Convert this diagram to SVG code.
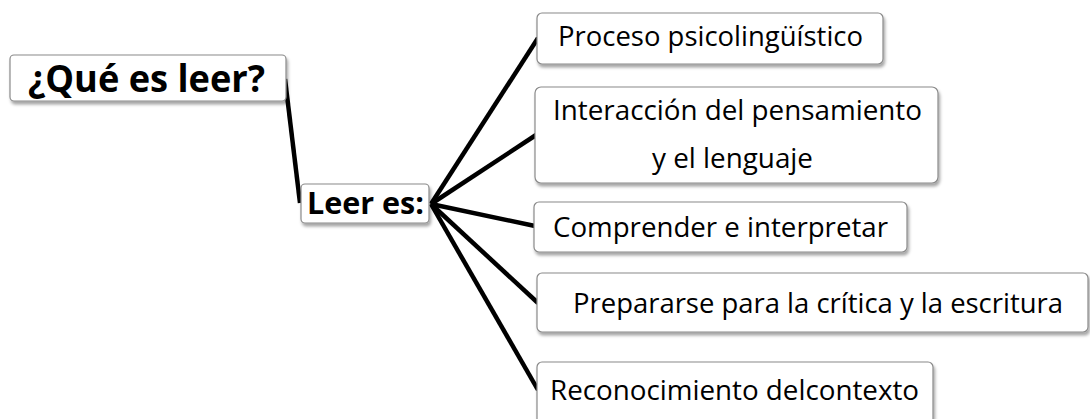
<svg xmlns="http://www.w3.org/2000/svg" width="1090" height="419" viewBox="0 0 1090 419">
<defs>
<filter id="sh" x="-10%" y="-20%" width="120%" height="160%">
<feDropShadow dx="1.5" dy="3" stdDeviation="1.8" flood-color="#000" flood-opacity="0.35"/>
</filter>
<style>
.box{fill:#fff;stroke:#8a8a8a;stroke-width:1.2;filter:url(#sh)}
.t{font-family:"Open Sans","Liberation Sans",sans-serif;font-size:28px;fill:#000}
.b{font-family:"Open Sans","Liberation Sans",sans-serif;font-weight:bold;fill:#000}
.c{stroke:#000;stroke-width:4.5;fill:none;stroke-linecap:butt}
</style>
</defs>
<rect width="1090" height="419" fill="#fff"/>
<g id="connectors">
<line class="c" x1="285" y1="79" x2="300" y2="203"/>
<line class="c" x1="431" y1="204" x2="538" y2="38"/>
<line class="c" x1="431" y1="204" x2="536" y2="135"/>
<line class="c" x1="431" y1="204" x2="535" y2="226"/>
<line class="c" x1="431" y1="204" x2="538" y2="303"/>
<line class="c" x1="431" y1="204" x2="538" y2="390"/>
</g>
<g id="node-que">
<rect class="box" x="10" y="55" width="276" height="46" rx="4"/>
<text class="b" x="28" y="92" font-size="37" textLength="237" lengthAdjust="spacingAndGlyphs">¿Qué es leer?</text>
</g>
<g id="node-leer">
<rect class="box" x="301" y="184" width="128" height="39" rx="4"/>
<text class="b" x="307" y="214" font-size="30" textLength="117" lengthAdjust="spacingAndGlyphs">Leer es:</text>
</g>
<g id="node-proceso">
<rect class="box" x="537" y="13" width="346" height="51" rx="5"/>
<text class="t" x="558" y="46" textLength="305" lengthAdjust="spacingAndGlyphs">Proceso psicolingüístico</text>
</g>
<g id="node-interaccion">
<rect class="box" x="535" y="87" width="403" height="96" rx="6"/>
<text class="t" x="553" y="120" textLength="369" lengthAdjust="spacingAndGlyphs">Interacción del pensamiento</text>
<text class="t" x="652" y="168" textLength="161" lengthAdjust="spacingAndGlyphs">y el lenguaje</text>
</g>
<g id="node-comprender">
<rect class="box" x="534" y="202" width="373" height="50" rx="5"/>
<text class="t" x="553" y="237" textLength="335" lengthAdjust="spacingAndGlyphs">Comprender e interpretar</text>
</g>
<g id="node-prepararse">
<rect class="box" x="537" y="273" width="551" height="59" rx="5"/>
<text class="t" x="573" y="313" textLength="490" lengthAdjust="spacingAndGlyphs">Prepararse para la crítica y la escritura</text>
</g>
<g id="node-reconocimiento">
<rect class="box" x="537" y="362" width="396" height="64" rx="5"/>
<text class="t" x="550" y="400" textLength="369" lengthAdjust="spacingAndGlyphs">Reconocimiento delcontexto</text>
</g>
</svg>
